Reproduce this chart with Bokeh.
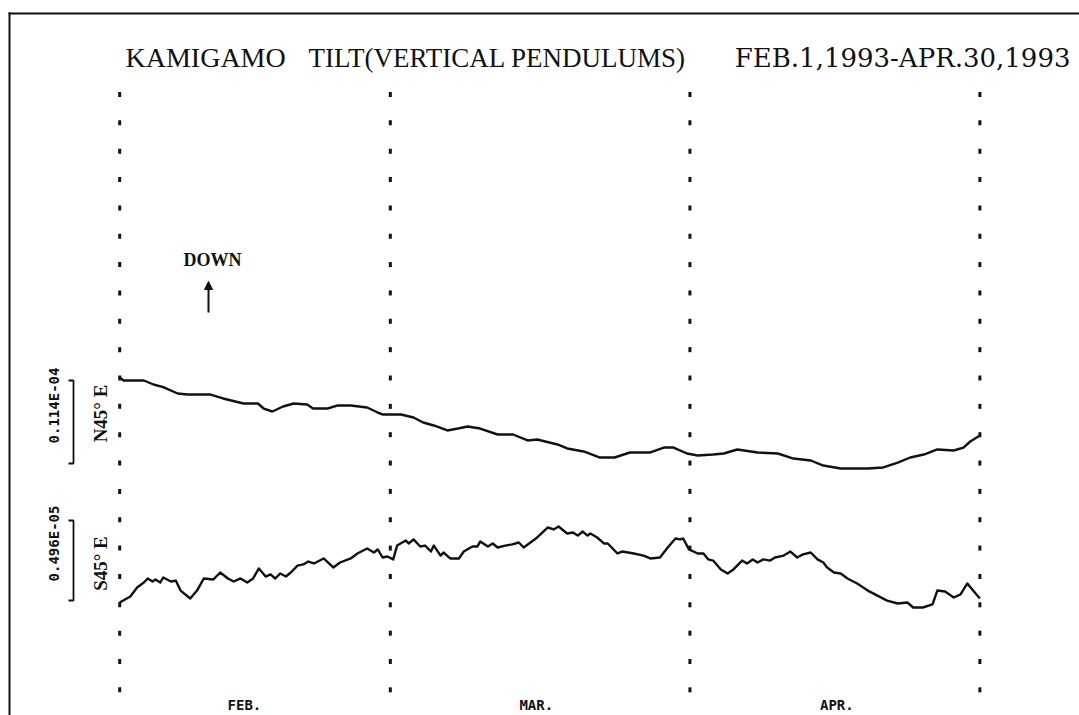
import numpy as np
from bokeh.plotting import figure
from bokeh.models import Range1d, Arrow, NormalHead, Label
from bokeh.embed import file_html
from bokeh.resources import INLINE

# ---------------- data ----------------
# time in days since 1993-02-01 00:00, tilt change in units of 1e-6 rad
month_starts = [0, 28, 59, 89]              # Feb 1, Mar 1, Apr 1, May 1
month_labels = ["FEB.", "MAR.", "APR."]
month_label_days = [12.9, 43.1, 74.2]

n45e_days = [0.0, 0.4, 2.5, 3.5, 4.5, 6.0, 7.0, 9.4, 10.7, 12.8, 14.3, 14.9, 15.8,
             16.9, 18.0, 19.4, 20.0, 21.5, 22.5, 23.9, 25.6, 26.7, 27.2, 29.1, 30.4,
             31.4, 32.5, 33.9, 35.0, 36.0, 37.3, 39.1, 40.7, 42.2, 43.2, 45.3, 46.3,
             48.0, 49.7, 51.2, 52.8, 54.9, 56.3, 57.3, 58.7, 59.8, 61.4, 62.5, 63.9,
             66.0, 68.1, 69.7, 71.5, 72.8, 74.6, 77.4, 79.0, 80.5, 81.8, 83.2, 84.6,
             86.3, 87.3, 88.0, 89.0]
n45e_tilt = [0.00, -0.41, -0.41, -0.96, -1.33, -2.20, -2.34, -2.34, -2.88, -3.57, -3.57,
             -4.26, -4.67, -3.98, -3.57, -3.71, -4.26, -4.26, -3.85, -3.85, -4.12, -4.81,
             -5.08, -5.08, -5.49, -6.18, -6.59, -7.28, -7.01, -6.73, -7.01, -7.83, -7.83,
             -8.65, -8.52, -9.20, -9.75, -10.16, -10.99, -10.99, -10.30, -10.30, -9.62,
             -9.62, -10.44, -10.71, -10.58, -10.44, -9.89, -10.30, -10.44, -11.13, -11.40,
             -12.09, -12.50, -12.50, -12.36, -11.68, -10.99, -10.58, -9.89, -10.03, -9.62,
             -8.79, -7.97]

s45e_days = [0.0, 1.1, 1.8, 2.5, 2.9, 3.4, 3.7, 4.2, 4.5, 5.3, 5.8, 6.3, 7.3, 8.0, 8.7,
             9.7, 10.4, 11.2, 11.8, 12.5, 13.2, 13.8, 14.4, 15.1, 15.6, 16.1, 16.6, 17.2,
             17.7, 18.4, 19.0, 19.5, 20.1, 21.1, 22.1, 22.8, 23.9, 24.6, 25.6, 26.3, 26.7,
             27.2, 27.7, 28.3, 28.7, 29.6, 29.9, 30.4, 31.1, 31.6, 32.2, 32.5, 33.2, 33.5,
             34.2, 35.1, 35.6, 36.5, 37.0, 37.3, 38.1, 38.6, 39.1, 39.9, 40.6, 41.3, 41.8,
             42.5, 43.2, 44.3, 44.9, 45.4, 46.3, 46.9, 47.4, 47.9, 48.4, 48.7, 49.4, 50.1,
             50.5, 51.5, 52.0, 53.2, 54.2, 54.9, 55.9, 56.7, 57.5, 58.0, 58.3, 58.9, 59.8,
             60.4, 60.9, 61.4, 62.2, 62.9, 63.5, 64.4, 64.9, 65.5, 66.0, 66.6, 67.3, 67.8,
             68.7, 69.4, 70.1, 70.7, 71.5, 72.2, 72.8, 73.2, 73.9, 74.6, 75.3, 76.3, 77.4,
             78.4, 79.4, 80.5, 81.5, 82.1, 83.1, 84.1, 84.6, 85.4, 86.3, 87.0, 87.7, 88.3,
             89.0]
s45e_tilt = [0.00, 0.37, 0.93, 1.24, 1.49, 1.30, 1.43, 1.24, 1.55, 1.30, 1.36, 0.74, 0.25,
             0.74, 1.49, 1.43, 1.86, 1.49, 1.30, 1.49, 1.24, 1.49, 2.11, 1.61, 1.74, 1.49,
             1.80, 1.61, 1.86, 2.29, 2.36, 2.54, 2.42, 2.73, 2.17, 2.48, 2.73, 3.04, 3.35,
             3.10, 3.29, 2.79, 2.85, 2.67, 3.53, 3.84, 3.66, 3.91, 3.47, 3.53, 3.16, 3.53,
             2.91, 3.10, 2.73, 2.73, 3.16, 3.47, 3.47, 3.78, 3.47, 3.66, 3.41, 3.53, 3.60,
             3.72, 3.41, 3.72, 4.03, 4.65, 4.53, 4.71, 4.28, 4.34, 4.15, 4.40, 4.15, 4.28,
             4.03, 3.66, 3.66, 3.04, 3.16, 3.04, 2.91, 2.73, 2.79, 3.41, 3.97, 3.91, 3.97,
             3.29, 3.04, 3.04, 2.67, 2.60, 2.05, 1.80, 2.05, 2.60, 2.42, 2.67, 2.48, 2.67,
             2.60, 2.79, 2.91, 3.16, 2.79, 2.98, 3.10, 2.67, 2.48, 2.17, 1.86, 1.80, 1.49,
             1.18, 0.74, 0.43, 0.12, -0.06, 0.00, -0.31, -0.31, -0.12, 0.74, 0.68, 0.31,
             0.50, 1.18, 0.74, 0.25]

scale_values = [11.4, 4.96]                 # 0.114E-04 and 0.496E-05, in 1e-6
scale_labels = ["0.114E-04", "0.496E-05"]
component_labels = ["N45° E", "S45° E"]
title_parts = ["KAMIGAMO", "TILT(VERTICAL PENDULUMS)", "FEB.1,1993-APR.30,1993"]

# ---------------- layout ----------------
W, H = 1079, 715
PX_PER_DAY = 9.665
DAY0_PX = 119.2          # picture x of day 0


def dx(px):
    """picture x pixel -> day coordinate"""
    return (px - DAY0_PX) / PX_PER_DAY


x_start = dx(0)
x_end = x_start + W / PX_PER_DAY

p = figure(width=W, height=H, output_backend="svg", toolbar_location=None,
           x_range=Range1d(x_start, x_end),
           y_range=Range1d(H, 0),
           x_axis_type=None, y_axis_type=None, min_border=0,
           outline_line_color=None, background_fill_color="white",
           border_fill_color="white")
p.grid.visible = False

ink = "#111111"

# scanned page border (left and top)
p.segment(x0=[dx(9), dx(8)], y0=[12, 13], x1=[dx(9), x_end], y1=[H, 13],
          line_color=ink, line_width=2)

# dotted month separators
dot_y = 94 + 28.35 * np.arange(22)
dx_list, dy_list = [], []
for m in month_starts:
    dx_list += [m] * len(dot_y)
    dy_list += list(dot_y)
p.rect(x=dx_list, y=dy_list, width=3, height=5, width_units="screen",
       height_units="screen", fill_color=ink, line_color=None)

# traces
N_BASE, N_PX = 377, 7.28
S_BASE, S_PX = 602, 16.13
p.line(n45e_days, N_BASE - N_PX * np.array(n45e_tilt), line_color=ink, line_width=2.4,
       line_join="round")
p.line(s45e_days, S_BASE - S_PX * np.array(s45e_tilt), line_color=ink, line_width=2.4,
       line_join="round")

# scale brackets
bx, btick = dx(73), dx(68)
n_top = 380
n_bot = n_top + scale_values[0] * N_PX
s_bot = 600
s_top = s_bot - scale_values[1] * S_PX
for top, bot in [(n_top, n_bot), (s_top, s_bot)]:
    p.line([btick, bx, bx, btick], [top, top, bot, bot], line_color=ink, line_width=1.8)

for lab, yc in zip(scale_labels, [405, 543]):
    p.add_layout(Label(x=dx(53.5), y=yc, text=lab, angle=np.pi / 2,
                       text_align="center", text_baseline="middle",
                       text_font="DejaVu Sans Mono", text_font_style="bold",
                       text_font_size="14px", text_color=ink))
for lab, yc in zip(component_labels, [413, 563]):
    p.add_layout(Label(x=dx(100), y=yc, text=lab, angle=np.pi / 2,
                       text_align="center", text_baseline="middle",
                       text_font="Liberation Serif", text_font_style="bold",
                       text_font_size="19px", text_color=ink))

# title
title_specs = [(125, "left", "Liberation Serif", "28px"),
               (308, "left", "Liberation Serif", "27px"),
               (1070, "right", "DejaVu Serif", "26px")]
for part, (px, al, fnt, fs) in zip(title_parts, title_specs):
    p.add_layout(Label(x=dx(px), y=57, text=part, text_align=al,
                       text_baseline="alphabetic", text_font=fnt,
                       text_font_size=fs, text_color=ink))

# DOWN arrow
p.add_layout(Label(x=dx(212), y=259, text="DOWN", text_align="center",
                   text_baseline="alphabetic", text_font="Liberation Serif",
                   text_font_style="bold", text_font_size="18px", text_color=ink))
p.add_layout(Arrow(end=NormalHead(size=8, fill_color=ink, line_color=ink),
                   x_start=dx(208), y_start=312, x_end=dx(208), y_end=281,
                   line_color=ink, line_width=2))

# month labels
for lab, d in zip(month_labels, month_label_days):
    p.add_layout(Label(x=d, y=704, text=lab, text_align="center",
                       text_baseline="alphabetic", text_font="DejaVu Sans Mono",
                       text_font_style="bold", text_font_size="14px", text_color=ink))

open("out.html", "w").write(file_html(p, INLINE))
